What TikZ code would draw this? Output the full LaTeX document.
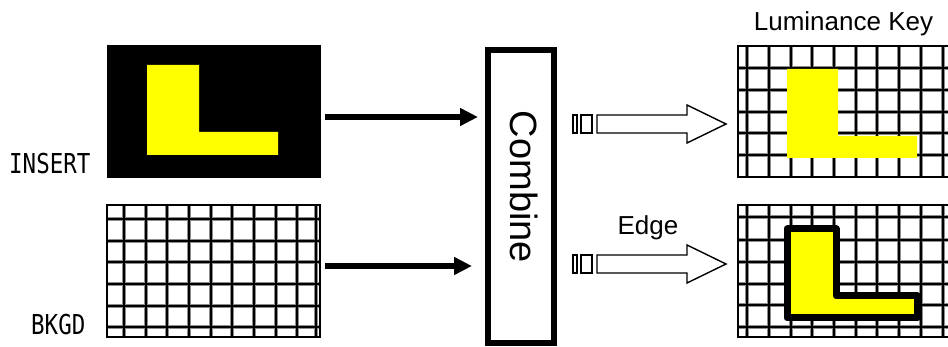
\documentclass[tikz,border=0pt]{standalone}
\usepackage{fontspec}
\usepackage{graphicx}
\setmainfont{Liberation Sans}
\newfontfamily\monofam{DejaVu Sans Mono}
\usetikzlibrary{arrows.meta}
\definecolor{keyyellow}{RGB}{255,255,0}
\tikzset{
  gridhalo/.style={draw=black!45, line width=3.8pt},
  gridcore/.style={draw=black, line width=1.7pt},
  gridborder/.style={draw=black, line width=2.8pt},
  feedarrow/.style={line width=5.5pt, -{Triangle[length=18pt,width=17pt]}},
  hollowarrow/.style={draw=black, line width=1.4pt, fill=white, line join=miter},
  lbl/.style={inner sep=0pt, font=\fontsize{26}{28}\selectfont},
  monolbl/.style={inner sep=0pt, anchor=base west},
  boxnode/.style={inner sep=0pt, outer sep=0pt}
}
\newcommand{\monotext}[1]{\scalebox{0.82}[1]{\monofam\fontsize{27.4}{29}\selectfont #1}}
\begin{document}
\begin{tikzpicture}[x=1pt,y=-1pt]
\useasboundingbox (0,0) rectangle (948,347);
\begin{scope}
\clip (0,0) rectangle (948,347);

% ---------- INSERT image ----------
\node[boxnode, fill=black, minimum width=214pt, minimum height=133pt] (insert) at (214,111.5) {};
\fill[keyyellow] (147,65) -- (199,65) -- (199,132) -- (278,132) -- (278,155) -- (147,155) -- cycle;
\node[monolbl] (inserttxt) at (9,174) {\monotext{INSERT}};

% ---------- BKGD image ----------
\node[boxnode, minimum width=213pt, minimum height=132pt] (bkgd) at (213.5,271) {};
\foreach \x in {124,145.7,167.3,189,210.7,232.3,254,275.7,297.3,316}
  \draw[gridhalo] (\x,205) -- (\x,337);
\foreach \y in {219,240.7,262.3,284,305.7,327}
  \draw[gridhalo] (107,\y) -- (320,\y);
\foreach \x in {124,145.7,167.3,189,210.7,232.3,254,275.7,297.3,316}
  \draw[gridcore] (\x,205) -- (\x,337);
\foreach \y in {219,240.7,262.3,284,305.7,327}
  \draw[gridcore] (107,\y) -- (320,\y);
\draw[gridborder] (107,205) rectangle (320,337);
\node[monolbl] (bkgdtxt) at (31,335) {\monotext{BKGD}};

% ---------- Combine ----------
\node[boxnode, draw, line width=6pt, minimum width=66pt, minimum height=293pt] (combine) at (521,196.5) {};
\node[inner sep=0pt, rotate=-90, anchor=base, font=\fontsize{38}{40}\selectfont] (combtxt) at (510,187) {Combine};

% feed arrows
\coordinate (f1) at (325,117);
\coordinate (f2) at (325,266);
\draw[feedarrow, shorten >=10pt] (f1) -- (f1 -| combine.west);
\draw[feedarrow, shorten >=16pt] (f2) -- (f2 -| combine.west);

% ---------- Luminance key result ----------
\node[boxnode, minimum width=230pt, minimum height=131pt] (lumgrid) at (853,111.5) {};
\foreach \x in {747,769,791,812,834,856,877,899,921,943}
  \draw[gridhalo] (\x,46) -- (\x,177);
\foreach \y in {68,90,112,133,155}
  \draw[gridhalo] (738,\y) -- (960,\y);
\foreach \x in {747,769,791,812,834,856,877,899,921,943}
  \draw[gridcore] (\x,46) -- (\x,177);
\foreach \y in {68,90,112,133,155}
  \draw[gridcore] (738,\y) -- (960,\y);
\draw[gridborder] (738,46) rectangle (962,177);
\fill[keyyellow] (787,69) -- (838,69) -- (838,136) -- (917,136) -- (917,158) -- (787,158) -- cycle;
\node[lbl, anchor=base] (lumtxt) at (843.5,31) {Luminance Key};

% ---------- Edge result ----------
\node[boxnode, minimum width=230pt, minimum height=132pt] (edgegrid) at (853,271) {};
\foreach \x in {747,769,791,812,834,856,877,899,921,943}
  \draw[gridhalo] (\x,205) -- (\x,337);
\foreach \y in {217,240,262,284,305,327}
  \draw[gridhalo] (738,\y) -- (960,\y);
\foreach \x in {747,769,791,812,834,856,877,899,921,943}
  \draw[gridcore] (\x,205) -- (\x,337);
\foreach \y in {217,240,262,284,305,327}
  \draw[gridcore] (738,\y) -- (960,\y);
\draw[gridborder] (738,205) rectangle (962,337);
\draw[fill=keyyellow, line width=7pt, line join=round]
  (787,229) -- (836,229) -- (836,296) -- (917,296) -- (917,318) -- (787,318) -- cycle;
\node[lbl, anchor=base] (edgetxt) at (648,235) {Edge};

% ---------- hollow arrows ----------
\foreach \yc/\nm in {124/h1, 264/h2} {
  \coordinate (\nm) at (597,\yc);
  \draw[hollowarrow] (573,\yc-9) rectangle (577,\yc+9);
  \draw[hollowarrow] (581,\yc-9) rectangle (592,\yc+9);
  \draw[hollowarrow] (\nm) ++(0,-9) -- ++(90,0) -- ++(0,-10) -- (726,\yc) -- (687,\yc+19) -- (687,\yc+9) -- (597,\yc+9) -- cycle;
}
\end{scope}
\end{tikzpicture}
\end{document}
